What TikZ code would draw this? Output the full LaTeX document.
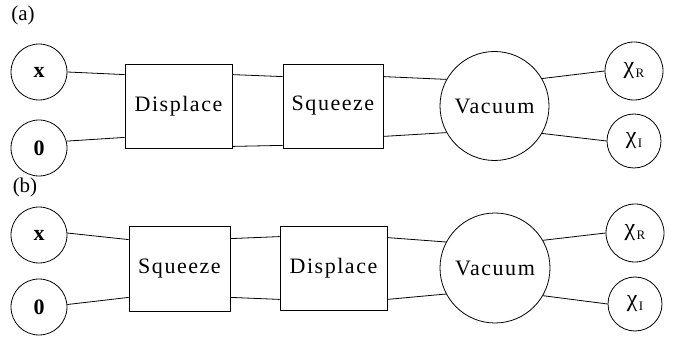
\documentclass[tikz,border=0pt]{standalone}
\usepackage{fontspec}
\setmainfont{Liberation Serif}
\newfontfamily\spaced[LetterSpace=7]{Liberation Serif}
\newcommand{\chisub}[1]{{\fontsize{24}{24}\selectfont χ}\hspace{1.5pt}\raisebox{-3.5pt}{\fontsize{13}{14}\selectfont #1}}
\begin{document}
\begin{tikzpicture}[x=1pt,y=-1pt,line width=0.8pt,
  every node/.style={inner sep=0pt,font=\fontsize{22}{24}\selectfont},
  inp/.style={circle,draw,minimum size=56pt,font=\fontsize{22}{24}\selectfont\bfseries},
  outp/.style={circle,draw,minimum size=#1},
  gate/.style={rectangle,draw,minimum height=84pt,font=\fontsize{22}{24}\selectfont\spaced},
  vac/.style={circle,draw,minimum size=109pt,font=\fontsize{22}{24}\selectfont\spaced},
  lab/.style={font=\fontsize{21}{22}\selectfont}]
\useasboundingbox (0,0) rectangle (686,339);
% (a)
\node[lab] (la) at (23,15) {(a)};
\node[inp] (x1) at (39,72) {x};
\node[inp] (o1) at (39,148) {0};
\node[gate,minimum width=107pt] (d1) at (178.5,106) {Displace};
\node[gate,minimum width=100pt] (s1) at (333,106) {Squeeze};
\node[vac] (v1) at (494.5,106) {Vacuum};
\node[outp=58pt] (r1) at (634,71) {\chisub{R}};
\node[outp=54pt] (i1) at (634,141) {\chisub{I}};
\draw (x1.east) -- ([yshift=-11pt]d1.north west);
\draw (o1.14) -- ([yshift=11pt]d1.south west);
\draw ([yshift=-11pt]d1.north east) -- ([yshift=-13pt]s1.north west);
\draw ([yshift=2pt]d1.south east) -- ([yshift=3pt]s1.south west);
\draw ([yshift=-13pt]s1.north east) -- (v1.151);
\draw ([yshift=12pt]s1.south east) -- (v1.209);
\draw (v1.30) -- (r1.west);
\draw (v1.-30) -- (i1.west);
% (b)
\node[lab] (lb) at (25,187) {(b)};
\node[inp] (x2) at (39,235) {x};
\node[inp] (o2) at (39,307) {0};
\node[gate,minimum width=101pt,minimum height=85pt] (s2) at (179.5,268.5) {Squeeze};
\node[gate,minimum width=107pt] (d2) at (333.5,268) {Displace};
\node[vac,minimum size=110pt] (v2) at (495,268) {Vacuum};
\node[outp=58pt] (r2) at (635,233) {\chisub{R}};
\node[outp=54pt] (i2) at (635,304) {\chisub{I}};
\draw (x2.4) -- ([yshift=-14pt]s2.north west);
\draw (o2.5) -- ([yshift=14pt]s2.south west);
\draw ([yshift=-13pt]s2.north east) -- ([yshift=-11pt]d2.north west);
\draw ([yshift=14pt]s2.south east) -- ([yshift=11pt]d2.south west);
\draw ([yshift=-12pt]d2.north east) -- (v2.152);
\draw ([yshift=11pt]d2.south east) -- (v2.208);
\draw (v2.30) -- (r2.west);
\draw (v2.-30) -- (i2.west);
\end{tikzpicture}
\end{document}
